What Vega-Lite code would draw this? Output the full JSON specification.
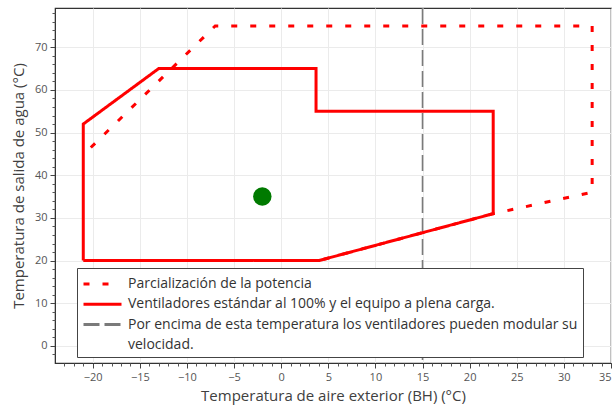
{
  "$schema": "https://vega.github.io/schema/vega-lite/v6.json",
  "width": 556,
  "height": 355,
  "autosize": {"type": "none"},
  "padding": {"left": 55, "top": 8, "right": 1, "bottom": 44},
  "background": "white",
  "config": {
    "font": "Open Sans",
    "view": {"stroke": "#333", "strokeWidth": 1.2},
    "axis": {"labelFont": "Open Sans", "titleFont": "Open Sans"}
  },
  "datasets": {
    "lines": [
      {"s": "Parcialización de la potencia", "o": 1, "x": -20.2, "y": 46.5},
      {"s": "Parcialización de la potencia", "o": 2, "x": -7, "y": 75},
      {"s": "Parcialización de la potencia", "o": 3, "x": 33, "y": 75},
      {"s": "Parcialización de la potencia", "o": 4, "x": 33, "y": 36},
      {"s": "Parcialización de la potencia", "o": 5, "x": 22.5, "y": 31},
      {"s": "Parcialización de la potencia", "o": 6, "x": 4, "y": 20},
      {"s": "Ventiladores estándar al 100% y el equipo a plena carga.", "o": 1, "x": -21, "y": 20},
      {"s": "Ventiladores estándar al 100% y el equipo a plena carga.", "o": 2, "x": -21, "y": 52},
      {"s": "Ventiladores estándar al 100% y el equipo a plena carga.", "o": 3, "x": -13, "y": 65},
      {"s": "Ventiladores estándar al 100% y el equipo a plena carga.", "o": 4, "x": 3.7, "y": 65},
      {"s": "Ventiladores estándar al 100% y el equipo a plena carga.", "o": 5, "x": 3.7, "y": 55},
      {"s": "Ventiladores estándar al 100% y el equipo a plena carga.", "o": 6, "x": 22.5, "y": 55},
      {"s": "Ventiladores estándar al 100% y el equipo a plena carga.", "o": 7, "x": 22.5, "y": 31},
      {"s": "Ventiladores estándar al 100% y el equipo a plena carga.", "o": 8, "x": 4, "y": 20},
      {"s": "Ventiladores estándar al 100% y el equipo a plena carga.", "o": 9, "x": -21, "y": 20}
    ],
    "rule": [
      {"s": "Por encima de esta temperatura los ventiladores pueden modular su", "x": 15}
    ],
    "point": [
      {"x": -2, "y": 35}
    ]
  },
  "layer": [
    {
      "data": {"name": "rule"},
      "mark": {"type": "rule"},
      "encoding": {
        "x": {
          "field": "x", "type": "quantitative",
          "scale": {"domain": [-24, 35], "nice": false, "zero": false},
          "axis": {
            "title": "Temperatura de aire exterior (BH) (°C)",
            "values": [-20, -15, -10, -5, 0, 5, 10, 15, 20, 25, 30, 35],
            "labelFontSize": 11, "labelColor": "#555", "labelPadding": 3,
            "titleFontSize": 15, "titleFontWeight": "normal", "titleColor": "#404040", "titlePadding": 6,
            "tickSize": 5, "tickColor": "#444", "domainColor": "#333",
            "grid": true, "gridColor": "#ebebeb"
          }
        },
        "color": {
          "field": "s", "type": "nominal",
          "scale": {
            "domain": ["Parcialización de la potencia", "Ventiladores estándar al 100% y el equipo a plena carga.", "Por encima de esta temperatura los ventiladores pueden modular su", "velocidad."],
            "range": ["#ff0000", "#ff0000", "#7a7a7a", "transparent"]
          },
          "legend": {
            "title": null,
            "orient": "none", "legendX": 22, "legendY": 260,
            "direction": "vertical",
            "symbolType": "M-1,0H3", "symbolSize": 361, "symbolStrokeWidth": 3,
            "labelFontSize": 14, "labelColor": "#333", "labelLimit": 700, "labelOffset": 24,
            "labelExpr": "datum.label + '\u00a0\u00a0\u00a0\u00a0'",
            "rowPadding": 2.3, "padding": 5,
            "strokeColor": "#444", "fillColor": "white"
          }
        },
        "strokeDash": {
          "field": "s", "type": "nominal",
          "scale": {
            "domain": ["Parcialización de la potencia", "Ventiladores estándar al 100% y el equipo a plena carga.", "Por encima de esta temperatura los ventiladores pueden modular su", "velocidad."],
            "range": [[6, 13], [1, 0], [16, 5], [1, 0]]
          },
          "legend": {
            "title": null,
            "orient": "none", "legendX": 22, "legendY": 260,
            "symbolType": "M-1,0H3", "symbolSize": 361, "symbolStrokeWidth": 3,
            "labelFontSize": 14, "labelColor": "#333", "labelLimit": 700, "labelOffset": 24,
            "labelExpr": "datum.label + '\u00a0\u00a0\u00a0\u00a0'",
            "rowPadding": 2.3, "padding": 5,
            "strokeColor": "#444", "fillColor": "white"
          }
        },
        "strokeWidth": {"value": 1.6}
      }
    },
    {
      "data": {"name": "lines"},
      "mark": {"type": "line", "strokeWidth": 3},
      "encoding": {
        "x": {"field": "x", "type": "quantitative", "axis": null},
        "y": {
          "field": "y", "type": "quantitative",
          "scale": {"domain": [-4, 79.2], "nice": false, "zero": false},
          "axis": {
            "title": "Temperatura de salida de agua (°C)",
            "values": [0, 10, 20, 30, 40, 50, 60, 70],
            "labelFontSize": 11, "labelColor": "#555", "labelPadding": 3,
            "titleFontSize": 15, "titleFontWeight": "normal", "titleColor": "#404040", "titlePadding": 8,
            "tickSize": 5, "tickColor": "#444", "domainColor": "#333",
            "grid": true, "gridColor": "#ebebeb"
          }
        },
        "color": {"field": "s", "type": "nominal"},
        "strokeDash": {"field": "s", "type": "nominal"},
        "order": {"field": "o", "type": "quantitative"}
      }
    },
    {
      "data": {"name": "point"},
      "mark": {"type": "point", "filled": true, "size": 340, "color": "#007a00", "opacity": 1},
      "encoding": {
        "x": {
          "field": "x", "type": "quantitative",
          "axis": {
            "orient": "bottom", "title": null, "labels": false, "grid": false, "domain": false,
            "values": [-23, -22, -21, -19, -18, -17, -16, -14, -13, -12, -11, -9, -8, -7, -6, -4, -3, -2, -1, 1, 2, 3, 4, 6, 7, 8, 9, 11, 12, 13, 14, 16, 17, 18, 19, 21, 22, 23, 24, 26, 27, 28, 29, 31, 32, 33, 34],
            "tickSize": 3, "tickColor": "#555"
          }
        },
        "y": {
          "field": "y", "type": "quantitative",
          "axis": {
            "orient": "left", "title": null, "labels": false, "grid": false, "domain": false,
            "values": [-2, 2, 4, 6, 8, 12, 14, 16, 18, 22, 24, 26, 28, 32, 34, 36, 38, 42, 44, 46, 48, 52, 54, 56, 58, 62, 64, 66, 68, 72, 74, 76, 78],
            "tickSize": 3, "tickColor": "#555"
          }
        }
      }
    }
  ],
  "resolve": {"axis": {"x": "independent", "y": "independent"}}
}
